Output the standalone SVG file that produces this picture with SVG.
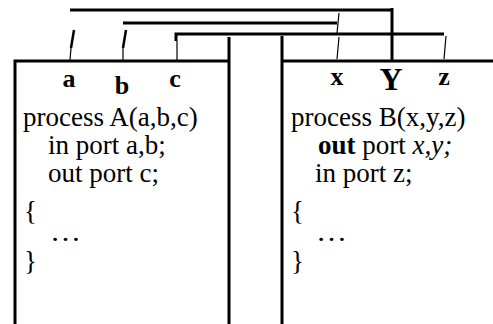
<svg xmlns="http://www.w3.org/2000/svg" width="493" height="324" viewBox="0 0 493 324">
<style>
.ln{stroke:#000;stroke-width:3;fill:none;stroke-linecap:butt}
.tk{stroke:#000;stroke-width:2.5;fill:none}
.th{stroke:#000;stroke-width:1.2;fill:none}
.t{font-family:"Liberation Serif","Times New Roman",serif;font-size:27px;fill:#000}
.lb{font-family:"Liberation Serif","Times New Roman",serif;font-size:26px;font-weight:bold;fill:#000;text-anchor:middle}
</style>
<rect width="493" height="324" fill="#fff"/>
<g id="connectors">
<path class="ln" d="M70 10H392"/>
<path class="ln" d="M123 23H337"/>
<path class="ln" d="M176 41V34H444"/>
<path class="ln" d="M392 8V62"/>
<path class="tk" d="M74 30L71 48"/>
<path class="th" d="M71 48L70 60"/>
<path class="tk" d="M126 30L123 48"/>
<path class="th" d="M123 48L123 60"/>
<path class="th" d="M177 41L177 60"/>
<path class="th" d="M339 13L337 33M339 37L337 59"/>
<path class="th" d="M446 36L444 59"/>
</g>
<g id="processA">
<path class="ln" d="M15 324V61H229M229 37V324"/>
<text class="lb" x="69" y="87">a</text>
<text class="lb" x="122" y="94">b</text>
<text class="lb" x="175" y="87">c</text>
<text class="t" x="23" y="126">process A(a,b,c)</text>
<text class="t" x="48" y="154">in port a,b;</text>
<text class="t" x="48" y="182">out port c;</text>
<text class="t" x="24" y="220">{</text>
<text class="t" x="50" y="241" textLength="31" lengthAdjust="spacingAndGlyphs">…</text>
<text class="t" x="24" y="270">}</text>
</g>
<g id="processB">
<path class="ln" d="M282 324V36M282 61H493"/>
<text class="lb" x="337" y="85">x</text>
<text class="lb" x="391" y="90" style="font-size:32px">Y</text>
<text class="lb" x="444" y="85">z</text>
<text class="t" x="291" y="126">process B(x,y,z)</text>
<text class="t" x="318" y="154"><tspan font-weight="bold">out</tspan> port <tspan font-style="italic">x,y;</tspan></text>
<text class="t" x="315" y="182">in port z;</text>
<text class="t" x="291" y="220">{</text>
<text class="t" x="316" y="241" textLength="31" lengthAdjust="spacingAndGlyphs">…</text>
<text class="t" x="291" y="270">}</text>
</g>
</svg>
